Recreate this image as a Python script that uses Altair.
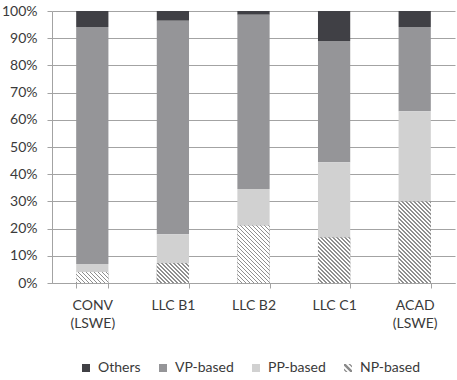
import math
import altair as alt
import pandas as pd

# Share of each construction type per corpus (fractions of 1)
categories = ["CONV\n(LSWE)", "LLC B1", "LLC B2", "LLC C1", "ACAD\n(LSWE)"]
np_based = [0.040, 0.073, 0.211, 0.167, 0.300]
pp_based = [0.030, 0.106, 0.135, 0.277, 0.331]
vp_based = [0.871, 0.785, 0.640, 0.446, 0.310]
others = [0.059, 0.036, 0.014, 0.110, 0.059]

series = ["Others", "VP-based", "PP-based", "NP-based"]
colors = ["#404045", "#959598", "#d1d1d1", "#8a8a8a"]
stack_rank = {"NP-based": 0, "PP-based": 1, "VP-based": 2, "Others": 3}

rows = []
for i, c in enumerate(categories):
    for s, vals in zip(series, [others, vp_based, pp_based, np_based]):
        rows.append({"cat": c, "series": s, "value": vals[i], "rank": stack_rank[s]})
df = pd.DataFrame(rows)
np_df = pd.DataFrame({"cat": categories, "value": np_based})

W, H = 403, 272
PAD_IN, PAD_OUT = 0.6, 0.3
step = W / (len(categories) - PAD_IN + 2 * PAD_OUT)
bar_w = step * (1 - PAD_IN)

FONT = "Lato"
GRID = "#a3a3a3"
TXT = "#3a3a3a"

# legend glyph for the hatched series: three diagonal strips in a square
HATCH_GLYPH = (
    "M-1,-1L-0.55,-1L1,0.55L1,1L0.55,1L-1,-0.55Z"
    "M0.1,-1L0.55,-1L1,-0.55L1,-0.1Z"
    "M-1,0.1L-0.1,1L-0.55,1L-1,0.55Z"
)
shapes = ["square", "square", "square", HATCH_GLYPH]


def hatch(h_px, period=4.0, frac=0.4, ink="#8f8f8f", paper="#ffffff"):
    """Diagonal stripes (fixed pixel period) for a bar_w x h_px bar, as a linear gradient."""
    w = bar_w
    n = math.ceil((w + h_px) / period)
    span = n * period  # measured along x - y, in pixels
    k = span / (w * w + h_px * h_px)
    stops = []
    for j in range(n):
        a = j / n
        b = (j + frac) / n
        e = (j + 1) / n
        stops += [
            {"offset": a, "color": ink},
            {"offset": b, "color": ink},
            {"offset": b, "color": paper},
            {"offset": e, "color": paper},
        ]
    return {
        "gradient": "linear",
        "x1": 0, "y1": 1,
        "x2": w * k, "y2": 1 - h_px * k,
        "stops": stops,
    }


x_enc = alt.X(
    "cat:N",
    sort=categories,
    scale=alt.Scale(paddingInner=PAD_IN, paddingOuter=PAD_OUT),
    axis=alt.Axis(
        title=None, labelAngle=0, tickBand="extent", grid=False,
        labelExpr="isString(datum.value) ? split(datum.value, '\\n') : ''",
        labelLineHeight=18, labelPadding=10, tickSize=5, labelFontSize=14,
    ),
)

y_scale = alt.Scale(domain=[0, 1], nice=False)
y_axis = alt.Axis(
    title=None, format="%", values=[i / 10 for i in range(11)],
    grid=True, tickSize=5, labelPadding=10, labelFontSize=14,
)
color_scale = alt.Scale(domain=series, range=colors)
legend = alt.Legend(
    title=None, orient="none", direction="horizontal", columns=4,
    legendX=27, legendY=350, columnPadding=15, labelOffset=5,
    symbolSize=64, symbolStrokeWidth=0, symbolOpacity=1,
    labelFontSize=14, labelFont=FONT, labelColor=TXT,
)

bars = alt.Chart(df).mark_bar().encode(
    x=x_enc,
    y=alt.Y("value:Q", stack="zero", scale=y_scale, axis=y_axis),
    color=alt.Color("series:N", scale=color_scale, legend=legend),
    order=alt.Order("rank:Q", sort="ascending"),
)

# invisible points that give each legend entry its glyph
legend_src = alt.Chart(df).mark_point(filled=True, size=0, opacity=0).encode(
    x=x_enc,
    y=alt.Y("value:Q", stack=None, scale=y_scale, axis=y_axis),
    color=alt.Color("series:N", scale=color_scale, legend=legend),
    shape=alt.Shape(
        "series:N", scale=alt.Scale(domain=series, range=shapes), legend=legend
    ),
)

layers = [bars]
for c, v in zip(categories, np_based):
    layers.append(
        alt.Chart(np_df)
        .transform_filter(alt.datum.cat == c)
        .mark_bar(fill=hatch(v * H))
        .encode(
            x=x_enc,
            y=alt.Y("value:Q", stack=None, scale=y_scale, axis=y_axis),
        )
    )
layers.append(legend_src)

chart = (
    alt.layer(*layers)
    .properties(
        width=W, height=H,
        autosize=alt.AutoSizeParams(type="none"),
        padding={"left": 52, "top": 11, "right": 2, "bottom": 97},
    )
    .configure_view(stroke=None)
    .configure_axis(
        domainColor=GRID, gridColor=GRID, tickColor=GRID,
        labelFont=FONT, labelColor=TXT, gridOpacity=1,
    )
)

chart.save("out.html", embed_options={"renderer": "svg", "actions": False})
